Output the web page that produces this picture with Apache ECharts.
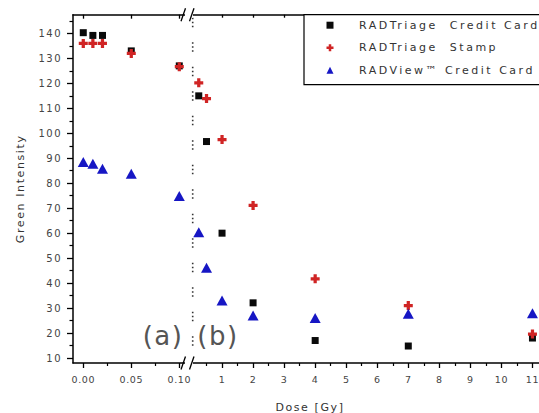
<!DOCTYPE html>
<html>
<head>
<meta charset="utf-8">
<script src="https://cdn.jsdelivr.net/npm/echarts@6/dist/echarts.min.js"></script>
<style>
html,body{margin:0;padding:0;background:#fff;overflow:hidden}
#c{width:539px;height:413px}
#c svg text[style*="ylab"], #c svg text[font-family*="ylab"]{letter-spacing:1.5px}
#c svg text[style*="xlab"], #c svg text[font-family*="xlab"]{letter-spacing:0.6px}
#c svg text[style*="leg"], #c svg text[font-family*="leg"]{letter-spacing:2.5px}
#c svg text[style*="ttl"], #c svg text[font-family*="ttl"]{letter-spacing:1.6px}
#c svg text[style*="pan"], #c svg text[font-family*="pan"]{letter-spacing:1.5px}
</style>
</head>
<body>
<div id="c"></div>
<script>
// ---- data ----
const doseA  = [0, 0.01, 0.02, 0.05, 0.1];          // Gy, left (low-dose) panel
const cardA  = [140.3, 139.2, 139.2, 133, 127];
const stampA = [136, 136, 136, 132, 126.7];
const viewA  = [88.5, 87.8, 85.8, 83.8, 74.9];

const doseB  = [0.25, 0.5, 1, 2, 4, 7, 11];          // Gy, right panel
const cardB  = [115, 96.7, 60, 32.1, 17, 14.8, 18];
const stampB = [120.2, 113.9, 97.5, 71.1, 41.7, 31, 19.6];
const viewB  = [60.4, 46.1, 33, 27, 26, 27.7, 27.9];

const seriesNames = ['RADTriage  Credit Card', 'RADTriage  Stamp', 'RADView\u2122 Credit Card'];

const yTicks   = [10, 20, 30, 40, 50, 60, 70, 80, 90, 100, 110, 120, 130, 140];
const yMinor   = [15, 25, 35, 45, 55, 65, 75, 85, 95, 105, 115, 125, 135, 145];
const xTicksA  = [0, 0.05, 0.1];
const xMinorA  = [0.025, 0.075];
const xTicksB  = [1, 2, 3, 4, 5, 6, 7, 8, 9, 10, 11];
const xMinorB  = [0.5, 1.5, 2.5, 3.5, 4.5, 5.5, 6.5, 7.5, 8.5, 9.5, 10.5, 11.5];

// ---- layout ----
const Y_MIN = 8, Y_MAX = 147.5;
const XA_MIN = -0.0107, XA_MAX = 0.1122;
const XB_MIN = 0, XB_MAX = 12;
const G0 = {left: 73, top: 14.7, width: 118, height: 348.3};
const G1 = {left: 191, top: 14.7, width: 372.5, height: 348.3};
const BOT = G0.top + G0.height, TOP = G0.top;
const LINE = {color: '#000', width: 1.5};
const FF = 'DejaVu Sans';

function pairs(xs, ys) { return xs.map((x, i) => [x, ys[i]]); }

function xAxes(gi, min, max, ticks, minor, fmt, topLen) {
  return [
    { gridIndex: gi, type: 'value', min, max, position: 'bottom',
      axisLine: {show: true, onZero: false, lineStyle: LINE},
      axisTick: {show: true, inside: false, length: 5, customValues: ticks, lineStyle: {color: '#000', width: 1.3}},
      axisLabel: {show: true, customValues: ticks, formatter: fmt, margin: 11,
                  fontSize: 9.5, fontFamily: FF + ', xlab', color: '#444'},
      splitLine: {show: false} },
    { gridIndex: gi, type: 'value', min, max, position: 'bottom',
      axisLine: {show: false, onZero: false},
      axisTick: {show: true, inside: false, length: 3, customValues: minor, lineStyle: {color: '#000', width: 1.2}},
      axisLabel: {show: false}, splitLine: {show: false} },
    { gridIndex: gi, type: 'value', min, max, position: 'top',
      axisLine: {show: true, onZero: false, lineStyle: LINE},
      axisTick: {show: true, inside: true, length: topLen, customValues: ticks, lineStyle: {color: '#000', width: 1.3}},
      axisLabel: {show: false}, splitLine: {show: false} }
  ];
}

const stampSymbol = 'path://M3.2,0H6.8V3.2H10V6.8H6.8V10H3.2V6.8H0V3.2H3.2Z';
const styles = [
  {symbol: 'rect', symbolSize: 7, color: '#0a0a0a'},
  {symbol: stampSymbol, symbolSize: 9, color: '#d02424'},
  {symbol: 'triangle', symbolSize: [11, 10], color: '#1616c4'}
];

function makeSeries(name, st, data, xi, yi) {
  return { type: 'scatter', name, data, xAxisIndex: xi, yAxisIndex: yi,
           symbol: st.symbol, symbolSize: st.symbolSize,
           itemStyle: {color: st.color, opacity: 1}, clip: false, silent: true, z: 3 };
}

const series = [
  makeSeries(seriesNames[0], styles[0], pairs(doseA, cardA), 0, 0),
  makeSeries(seriesNames[1], styles[1], pairs(doseA, stampA), 0, 0),
  makeSeries(seriesNames[2], styles[2], pairs(doseA, viewA), 0, 0),
  makeSeries(seriesNames[0], styles[0], pairs(doseB, cardB), 3, 2),
  makeSeries(seriesNames[1], styles[1], pairs(doseB, stampB), 3, 2),
  makeSeries(seriesNames[2], styles[2], pairs(doseB, viewB), 3, 2)
];

const bx = G1.left; // break position
const graphic = [
  // dotted separator
  {type: 'line', z: 10, shape: {x1: bx + 1.7, y1: TOP + 3, x2: bx + 1.7, y2: BOT - 3},
   style: {stroke: '#333', lineWidth: 1.6, lineDash: [1.5, 2.5, 1.5, 2.5, 1.5, 15]}},
  // axis gaps
  {type: 'rect', z: 20, shape: {x: bx - 6, y: TOP - 3, width: 8, height: 6}, style: {fill: '#fff'}},
  {type: 'rect', z: 20, shape: {x: bx - 6, y: BOT - 3, width: 8, height: 6}, style: {fill: '#fff'}},
  // break slashes
  {type: 'line', z: 21, shape: {x1: bx - 10, y1: TOP + 6.5, x2: bx - 5.5, y2: TOP - 6.5}, style: {stroke: '#000', lineWidth: 1.3}},
  {type: 'line', z: 21, shape: {x1: bx - 1.5, y1: TOP + 6.5, x2: bx + 3, y2: TOP - 6.5}, style: {stroke: '#000', lineWidth: 1.3}},
  {type: 'line', z: 21, shape: {x1: bx - 10, y1: BOT + 6.5, x2: bx - 5.5, y2: BOT - 6.5}, style: {stroke: '#000', lineWidth: 1.3}},
  {type: 'line', z: 21, shape: {x1: bx - 1.5, y1: BOT + 6.5, x2: bx + 3, y2: BOT - 6.5}, style: {stroke: '#000', lineWidth: 1.3}},
  // panel labels
  {type: 'text', z: 22, x: 163, y: 336, style: {text: '(a)', fontSize: 26, fontFamily: FF + ', pan', fill: '#555', align: 'center', verticalAlign: 'middle'}},
  {type: 'text', z: 22, x: 218, y: 336, style: {text: '(b)', fontSize: 26, fontFamily: FF + ', pan', fill: '#555', align: 'center', verticalAlign: 'middle'}},
  // x axis title
  {type: 'text', z: 22, x: 310, y: 407, style: {text: 'Dose [Gy]', fontSize: 11, fontFamily: FF + ', ttl', fill: '#333', align: 'center', verticalAlign: 'middle'}}
];

const option = {
  animation: false,
  backgroundColor: '#fff',
  grid: [
    Object.assign({outerBoundsMode: 'none', containLabel: false}, G0),
    Object.assign({outerBoundsMode: 'none', containLabel: false}, G1)
  ],
  xAxis: [].concat(
    xAxes(0, XA_MIN, XA_MAX, xTicksA, xMinorA, v => v.toFixed(2), 4),
    xAxes(1, XB_MIN, XB_MAX, xTicksB, xMinorB, v => String(v), 3)
  ),
  yAxis: [
    { gridIndex: 0, type: 'value', min: Y_MIN, max: Y_MAX, position: 'left',
      name: 'Green Intensity', nameLocation: 'middle', nameGap: 47, nameRotate: 90,
      nameTextStyle: {fontSize: 11, fontFamily: FF + ', ttl', color: '#333'},
      axisLine: {show: true, onZero: false, lineStyle: LINE},
      axisTick: {show: true, inside: false, length: 6, customValues: yTicks, lineStyle: {color: '#000', width: 1.3}},
      axisLabel: {show: true, customValues: yTicks, margin: 11, fontSize: 10, fontFamily: FF + ', ylab', color: '#444'},
      splitLine: {show: false} },
    { gridIndex: 0, type: 'value', min: Y_MIN, max: Y_MAX, position: 'left',
      axisLine: {show: false, onZero: false},
      axisTick: {show: true, inside: false, length: 3.5, customValues: yMinor, lineStyle: {color: '#000', width: 1.2}},
      axisLabel: {show: false}, splitLine: {show: false} },
    { gridIndex: 1, type: 'value', min: Y_MIN, max: Y_MAX, show: false,
      axisLine: {onZero: false}, splitLine: {show: false} }
  ],
  legend: {
    orient: 'vertical', left: 304, top: TOP,
    data: seriesNames,
    padding: [5, 120, 9, 22.5],
    itemWidth: 7, itemHeight: 7, itemGap: 11.5,
    borderColor: '#000', borderWidth: 1.2, borderRadius: 0,
    backgroundColor: '#fff',
    selectedMode: false,
    textStyle: {fontSize: 11, fontFamily: FF + ', leg', color: '#333', padding: [0, 0, 0, 20.5]}
  },
  graphic,
  series
};

const chart = echarts.init(document.getElementById('c'), null, {renderer: 'svg', width: 539, height: 413});
chart.setOption(option);
</script>
</body>
</html>
